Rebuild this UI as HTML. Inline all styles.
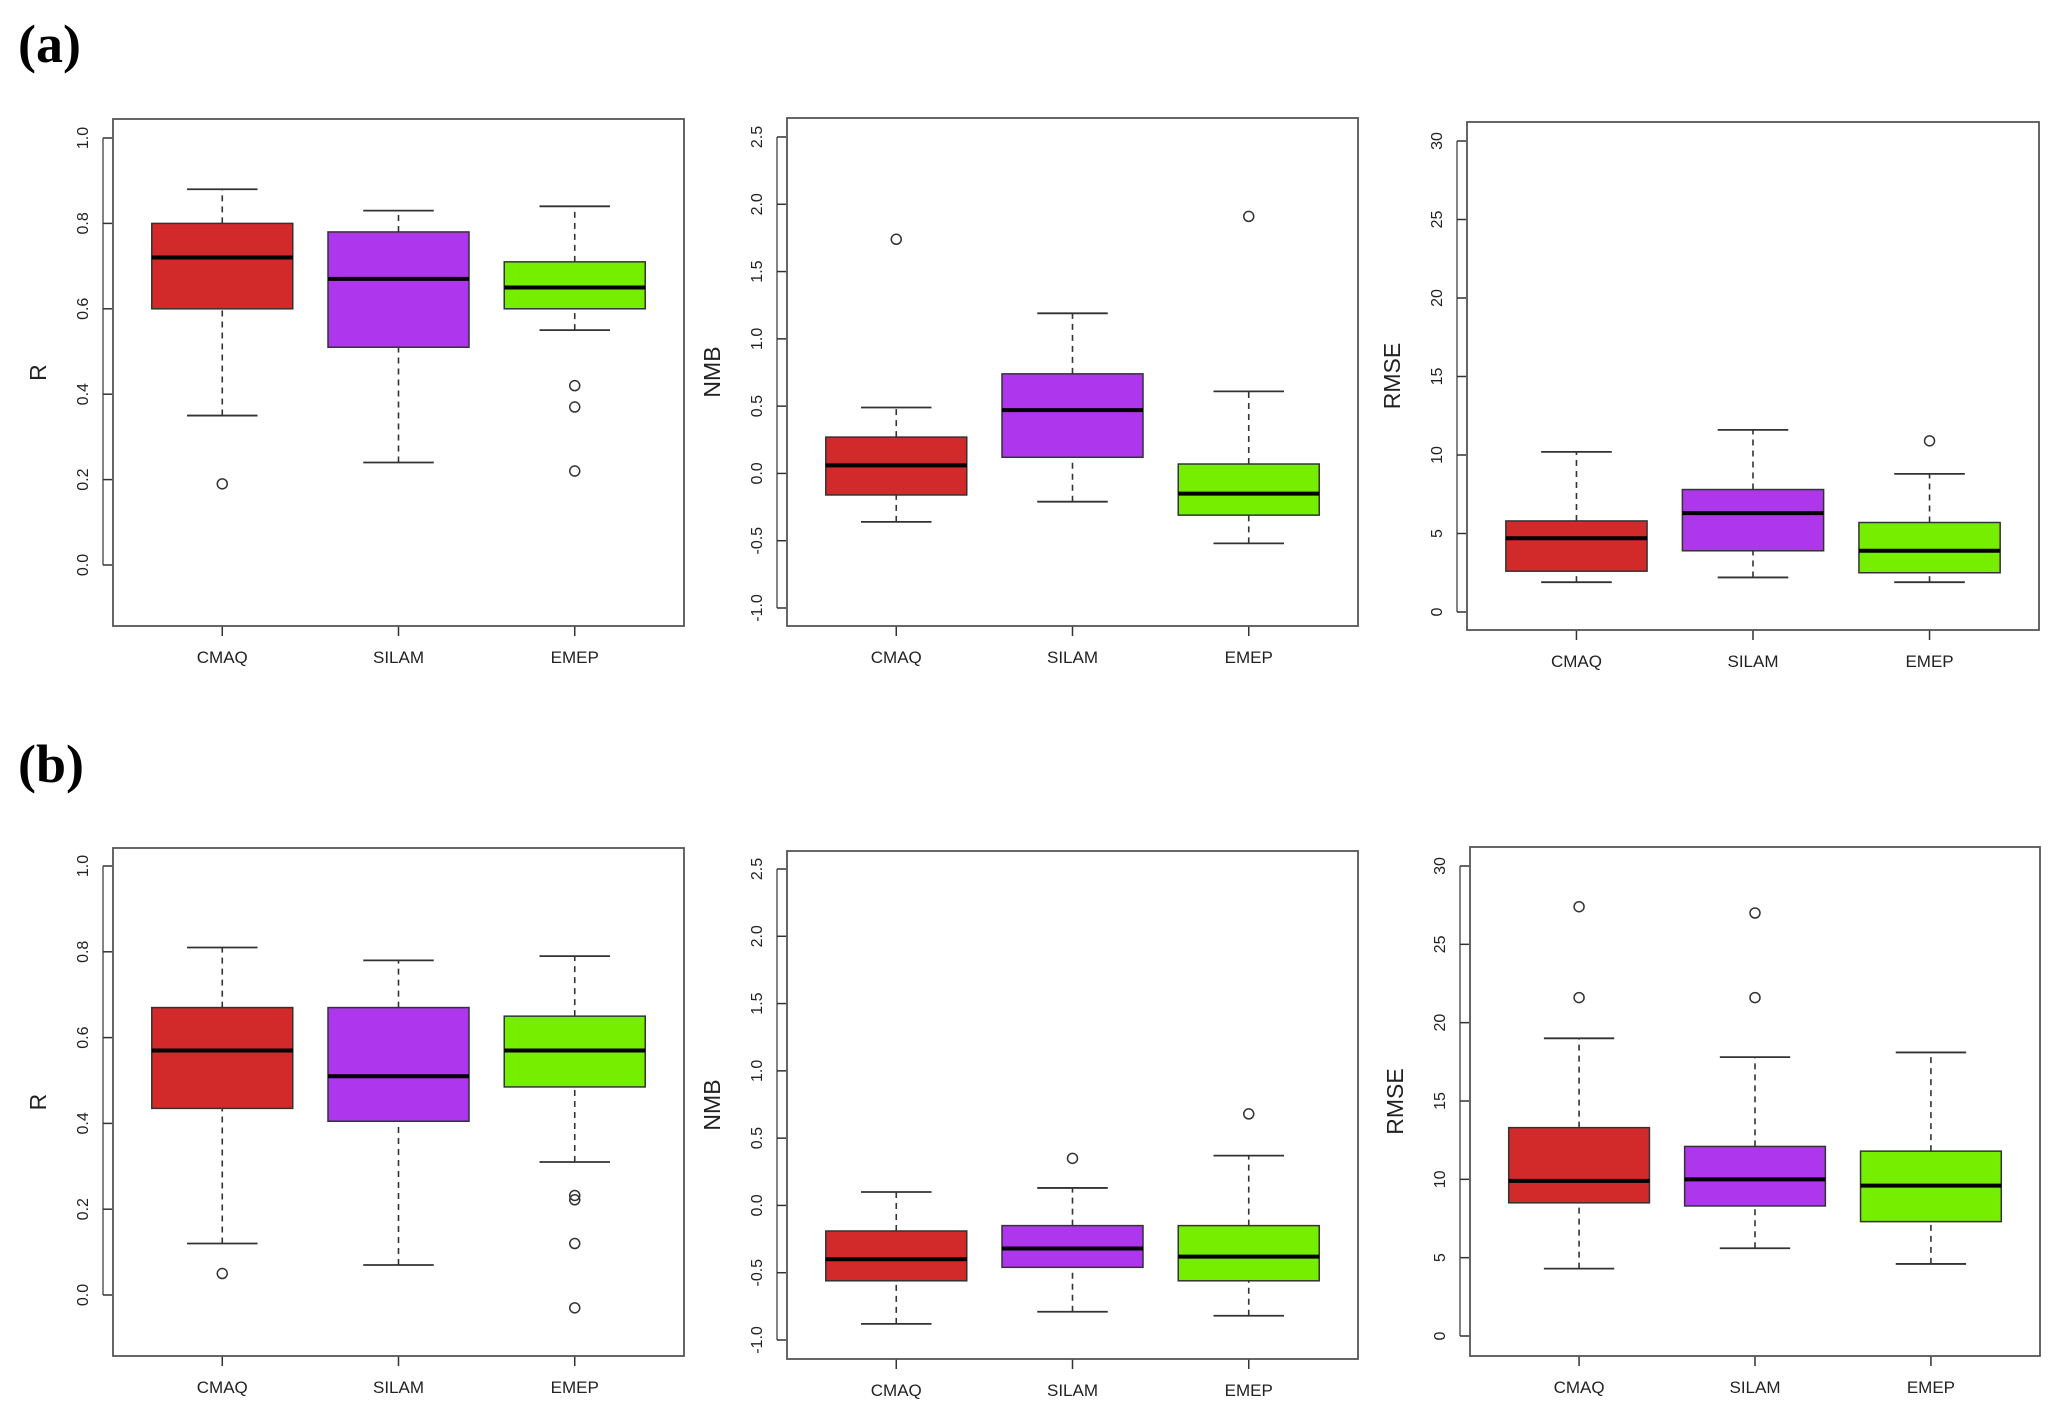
<!DOCTYPE html>
<html><head><meta charset="utf-8">
<style>
html,body{margin:0;padding:0;background:#fff;}
svg{display:block;font-family:"Liberation Sans",Arial,sans-serif;}
</style></head>
<body>
<svg id="fig" width="2067" height="1426" viewBox="0 0 2067 1426" xmlns="http://www.w3.org/2000/svg">
<rect width="2067" height="1426" fill="#fff"/>
<text x="18" y="62" font-family="Liberation Serif,serif" font-weight="bold" font-size="54">(a)</text>
<text x="18" y="782" font-family="Liberation Serif,serif" font-weight="bold" font-size="54">(b)</text>
</svg>
<script>
const categories = ["CMAQ","SILAM","EMEP"];
const colors = ["#d22a2a","#ae37ee","#76ee00"];
// [low whisker, q1, median, q3, high whisker]
const a1Stats = [[0.35,0.60,0.72,0.80,0.88],[0.24,0.51,0.67,0.78,0.83],[0.55,0.60,0.65,0.71,0.84]];
const a1Out = [[0.19],[],[0.42,0.37,0.22]];
const a2Stats = [[-0.36,-0.16,0.06,0.27,0.49],[-0.21,0.12,0.47,0.74,1.19],[-0.52,-0.31,-0.15,0.07,0.61]];
const a2Out = [[1.74],[],[1.91]];
const a3Stats = [[1.9,2.6,4.7,5.8,10.2],[2.2,3.9,6.3,7.8,11.6],[1.9,2.5,3.9,5.7,8.8]];
const a3Out = [[],[],[10.9]];
const b1Stats = [[0.12,0.435,0.57,0.67,0.81],[0.07,0.405,0.51,0.67,0.78],[0.31,0.485,0.57,0.65,0.79]];
const b1Out = [[0.05],[],[0.232,0.222,0.12,-0.03]];
const b2Stats = [[-0.88,-0.56,-0.40,-0.19,0.10],[-0.79,-0.46,-0.32,-0.15,0.13],[-0.82,-0.56,-0.38,-0.15,0.37]];
const b2Out = [[],[0.35],[0.68]];
const b3Stats = [[4.3,8.5,9.9,13.3,19.0],[5.6,8.3,10.0,12.1,17.8],[4.6,7.3,9.6,11.8,18.1]];
const b3Out = [[27.4,21.6],[27.0,21.6],[]];
const rTicks = ["0.0","0.2","0.4","0.6","0.8","1.0"];
const nmbTicks = ["-1.0","-0.5","0.0","0.5","1.0","1.5","2.0","2.5"];
const rmseTicks = ["0","5","10","15","20","25","30"];

const NS="http://www.w3.org/2000/svg";
const svg=document.getElementById('fig');
function mk(tag,attrs,parent){const e=document.createElementNS(NS,tag);for(const k in attrs)e.setAttribute(k,attrs[k]);(parent||svg).appendChild(e);return e;}

const panels=[
 {id:'a-r',x0:113,x1:684,y0:119,y1:626,v1:1.0,p1:138,v0:0,p0:565,title:'R',ticks:rTicks,stats:a1Stats,out:a1Out},
 {id:'a-nmb',x0:787,x1:1358,y0:118,y1:626,v1:2.5,p1:137,v0:-1,p0:608,title:'NMB',ticks:nmbTicks,stats:a2Stats,out:a2Out},
 {id:'a-rmse',x0:1467,x1:2039,y0:122,y1:630,v1:30,p1:141,v0:0,p0:612,title:'RMSE',ticks:rmseTicks,stats:a3Stats,out:a3Out},
 {id:'b-r',x0:113,x1:684,y0:848,y1:1356,v1:1.0,p1:866,v0:0,p0:1295,title:'R',ticks:rTicks,stats:b1Stats,out:b1Out},
 {id:'b-nmb',x0:787,x1:1358,y0:851,y1:1359,v1:2.5,p1:869,v0:-1,p0:1340,title:'NMB',ticks:nmbTicks,stats:b2Stats,out:b2Out},
 {id:'b-rmse',x0:1470,x1:2040,y0:847,y1:1356,v1:30,p1:866,v0:0,p0:1336,title:'RMSE',ticks:rmseTicks,stats:b3Stats,out:b3Out}
];

panels.forEach(P=>{
 const g=mk('g',{});
 
 
 const yS=v=>P.p0+(v-P.v0)*(P.p1-P.p0)/(P.v1-P.v0);
 const W=P.x1-P.x0;
 const unit=W/3.24;
 const xS=i=>P.x0+(i+1-0.5+0.12)*unit;
 // boxes
 P.stats.forEach((s,i)=>{
  const cx=xS(i), hw=0.4*unit, cw=0.2*unit;
  const bg=mk('g',{},g);
  
  
  mk('line',{x1:cx,x2:cx,y1:yS(s[0]),y2:yS(s[1]),stroke:'#333','stroke-width':1.6,'stroke-dasharray':'6,5'},bg);
  mk('line',{x1:cx,x2:cx,y1:yS(s[3]),y2:yS(s[4]),stroke:'#333','stroke-width':1.6,'stroke-dasharray':'6,5'},bg);
  mk('line',{x1:cx-cw,x2:cx+cw,y1:yS(s[0]),y2:yS(s[0]),stroke:'#333','stroke-width':1.8},bg);
  mk('line',{x1:cx-cw,x2:cx+cw,y1:yS(s[4]),y2:yS(s[4]),stroke:'#333','stroke-width':1.8},bg);
  mk('rect',{x:cx-hw,y:yS(s[3]),width:2*hw,height:yS(s[1])-yS(s[3]),fill:colors[i],stroke:'#333','stroke-width':1.5},bg);
  mk('line',{x1:cx-hw,x2:cx+hw,y1:yS(s[2]),y2:yS(s[2]),stroke:'#000','stroke-width':4},bg);
  P.out[i].forEach(v=>{
   const c=mk('circle',{cx:cx,cy:yS(v),r:5,fill:'none',stroke:'#333','stroke-width':1.5},bg);
   
   
  });
  const t=mk('line',{x1:cx,x2:cx,y1:P.y1,y2:P.y1+10,stroke:'#333','stroke-width':1.5},g);
  const lab=mk('text',{x:cx,y:P.y1+37,'text-anchor':'middle','font-size':17,fill:'#222'},g);
  lab.textContent=categories[i];
  
  
 });
 // frame
 const fr=mk('rect',{x:P.x0,y:P.y0,width:W,height:P.y1-P.y0,fill:'none',stroke:'#555','stroke-width':1.8},g);
 
 
 // y axis
 mk('line',{x1:P.x0-10,x2:P.x0-10,y1:yS(parseFloat(P.ticks[0])),y2:yS(parseFloat(P.ticks[P.ticks.length-1])),stroke:'#333','stroke-width':1.2},g);
 P.ticks.forEach(tk=>{
  const y=yS(parseFloat(tk));
  mk('line',{x1:P.x0-10,x2:P.x0-1,y1:y,y2:y,stroke:'#333','stroke-width':1.5},g);
  const tl=mk('text',{x:0,y:0,transform:`translate(${P.x0-25},${y}) rotate(-90)`,'text-anchor':'middle','font-size':16,fill:'#222'},g);
  tl.textContent=tk;
  
  
 });
 const ym=(P.y0+P.y1)/2;
 const yt=mk('text',{x:0,y:0,transform:`translate(${P.x0-67},${ym}) rotate(-90)`,'text-anchor':'middle','font-size':23,fill:'#222'},g);
 yt.textContent=P.title;
 
 
});
</script>
</body></html>
